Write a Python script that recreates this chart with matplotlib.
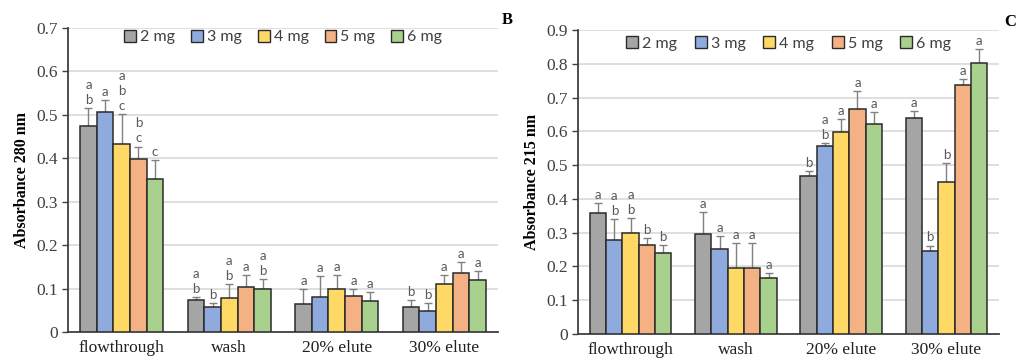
import matplotlib
matplotlib.use("Agg")
import matplotlib.pyplot as plt
from matplotlib.patches import Patch
import numpy as np

categories = ["flowthrough", "wash", "20% elute", "30% elute"]
series = ["2 mg", "3 mg", "4 mg", "5 mg", "6 mg"]
colors = ["#A5A5A5", "#8FAADC", "#FFD966", "#F4B183", "#A9D18E"]

# Panel A: Absorbance 280 nm (rows = series, cols = categories)
a_2mg = [0.475, 0.074, 0.065, 0.057]
a_3mg = [0.507, 0.058, 0.081, 0.048]
a_4mg = [0.432, 0.079, 0.099, 0.110]
a_5mg = [0.398, 0.103, 0.083, 0.135]
a_6mg = [0.352, 0.098, 0.072, 0.120]
a_err_2mg = [0.040, 0.007, 0.034, 0.017]
a_err_3mg = [0.028, 0.009, 0.048, 0.018]
a_err_4mg = [0.070, 0.031, 0.032, 0.022]
a_err_5mg = [0.029, 0.028, 0.015, 0.026]
a_err_6mg = [0.043, 0.023, 0.020, 0.021]
a_let_2mg = ["a\nb", "a\nb", "a", "b"]
a_let_3mg = ["a", "b", "a", "b"]
a_let_4mg = ["a\nb\nc", "a\nb", "a", "a"]
a_let_5mg = ["b\nc", "a", "a", "a"]
a_let_6mg = ["c", "a\nb", "a", "a"]

# Panel B: Absorbance 215 nm
b_2mg = [0.357, 0.296, 0.468, 0.640]
b_3mg = [0.278, 0.252, 0.557, 0.246]
b_4mg = [0.298, 0.194, 0.597, 0.449]
b_5mg = [0.265, 0.194, 0.665, 0.738]
b_6mg = [0.239, 0.167, 0.623, 0.803]
b_err_2mg = [0.031, 0.066, 0.015, 0.020]
b_err_3mg = [0.062, 0.038, 0.009, 0.016]
b_err_4mg = [0.046, 0.074, 0.039, 0.056]
b_err_5mg = [0.019, 0.074, 0.054, 0.016]
b_err_6mg = [0.025, 0.013, 0.034, 0.041]
b_let_2mg = ["a", "a", "b", "a"]
b_let_3mg = ["a\nb", "a", "a\nb", "b"]
b_let_4mg = ["a\nb", "a", "a", "b"]
b_let_5mg = ["b", "a", "a", "a"]
b_let_6mg = ["b", "a", "a", "a"]

a_ticks = [0, 0.1, 0.2, 0.3, 0.4, 0.5, 0.6, 0.7]
a_ticklabels = ["0", "0.1", "0.2", "0.3", "0.4", "0.5", "0.6", "0.7"]
b_ticks = [0, 0.1, 0.2, 0.3, 0.4, 0.5, 0.6, 0.7, 0.8, 0.9]
b_ticklabels = ["0", "0.1", "0.2", "0.3", "0.4", "0.5", "0.6", "0.7", "0.8", "0.9"]

SERIF = "Liberation Serif"
SANS = ["Lato", "DejaVu Sans"]

fig = plt.figure(figsize=(10.2, 3.62), dpi=100)
axA = fig.add_axes([0.0667, 0.0829, 0.4216, 0.8398])
axB = fig.add_axes([0.5667, 0.0773, 0.4127, 0.8398])


def draw(ax, vals, errs, lets, ticks, ticklabels, ylabel, ylim, legend_y, colsp):
    x = np.arange(len(categories))
    n = len(series)
    width = 0.155
    for i in range(n):
        pos = x + (i - (n - 1) / 2) * width
        ax.bar(pos, vals[i], width, color=colors[i], edgecolor="#2b2b2b",
               linewidth=1.1, zorder=3)
        ax.errorbar(pos, vals[i], yerr=[np.zeros(len(categories)), errs[i]],
                    fmt="none", ecolor="#808080", elinewidth=1.0, capsize=3,
                    capthick=1.0, zorder=2)
        for j in range(len(categories)):
            ax.annotate(lets[i][j], (pos[j], vals[i][j] + errs[i][j]),
                        xytext=(0, 1.5), textcoords="offset points",
                        ha="center", va="bottom", fontsize=9.5,
                        color="#595959", family=SANS, linespacing=1.3,
                        zorder=4)
    ax.set_xlim(-0.5, len(categories) - 0.5)
    ax.set_ylim(*ylim)
    ax.set_yticks(ticks)
    ax.set_yticklabels(ticklabels, family=SERIF, fontsize=12.5, color="#404040")
    ax.set_xticks(x)
    ax.set_xticklabels(categories, family=SERIF, fontsize=12.5, color="#202020")
    ax.tick_params(axis="x", length=0, pad=6)
    ax.tick_params(axis="y", length=4, width=1, color="#404040", pad=3)
    ax.set_ylabel(ylabel, family=SERIF, fontweight="bold", fontsize=11.5,
                  labelpad=5)
    ax.yaxis.grid(True, color="#d9d9d9", linewidth=1.2, zorder=0)
    ax.set_axisbelow(True)
    for s in ["top", "right"]:
        ax.spines[s].set_visible(False)
    ax.spines["left"].set_color("#404040")
    ax.spines["bottom"].set_color("#404040")
    ax.spines["left"].set_linewidth(1.3)
    ax.spines["bottom"].set_linewidth(1.3)
    handles = [Patch(facecolor=c, edgecolor="#2b2b2b", linewidth=1.0)
               for c in colors]
    leg = ax.legend(handles, series, loc="center", bbox_to_anchor=(0.5, legend_y),
                    ncol=5, frameon=False, handlelength=0.75, handleheight=0.75,
                    handletextpad=0.25, columnspacing=colsp,
                    prop={"family": SANS, "size": 11.5})
    for t in leg.get_texts():
        t.set_color("#404040")


draw(axA, [a_2mg, a_3mg, a_4mg, a_5mg, a_6mg],
     [a_err_2mg, a_err_3mg, a_err_4mg, a_err_5mg, a_err_6mg],
     [a_let_2mg, a_let_3mg, a_let_4mg, a_let_5mg, a_let_6mg],
     a_ticks, a_ticklabels, "Absorbance 280 nm", (0, 0.7), 0.97, 1.0)
draw(axB, [b_2mg, b_3mg, b_4mg, b_5mg, b_6mg],
     [b_err_2mg, b_err_3mg, b_err_4mg, b_err_5mg, b_err_6mg],
     [b_let_2mg, b_let_3mg, b_let_4mg, b_let_5mg, b_let_6mg],
     b_ticks, b_ticklabels, "Absorbance 215 nm", (0, 0.9), 0.955, 1.1)

fig.text(507 / 1020, 1 - 20 / 362, "B", family=SERIF, fontweight="bold",
         fontsize=12, ha="center", va="center")
fig.text(1010 / 1020, 1 - 22 / 362, "C", family=SERIF, fontweight="bold",
         fontsize=12, ha="center", va="center")

fig.savefig("out.png", dpi=100)
